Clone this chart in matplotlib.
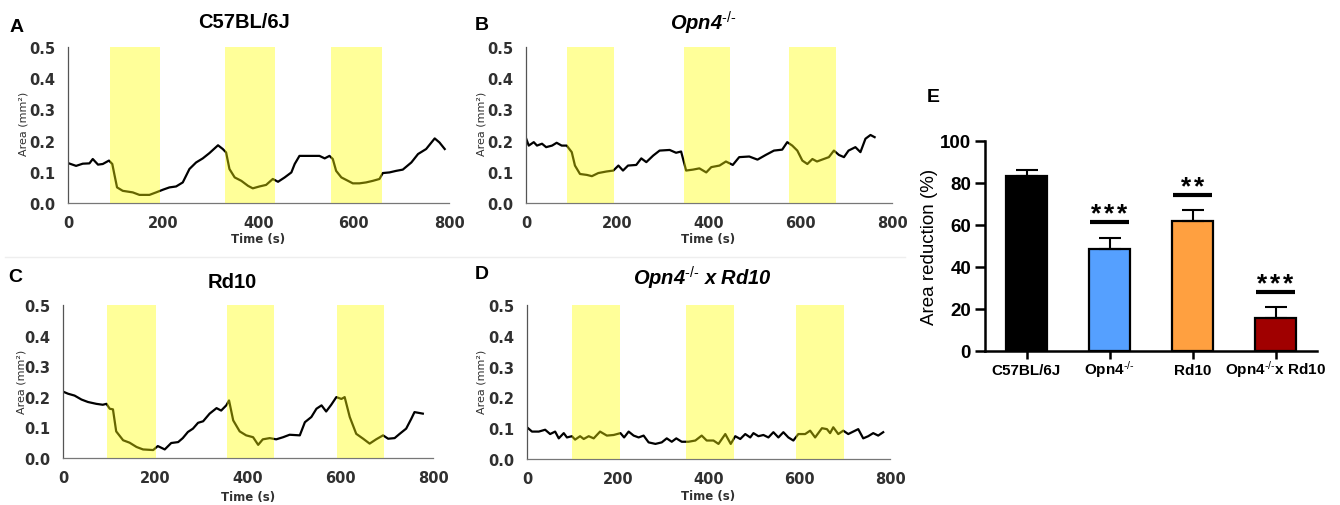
import matplotlib.pyplot as plt
from matplotlib.lines import Line2D
import matplotlib.transforms as mtransforms

plt.rcParams['mathtext.fontset'] = 'custom'
plt.rcParams['mathtext.it'] = 'Liberation Sans:italic:bold'
plt.rcParams['mathtext.bf'] = 'Liberation Sans:bold'
plt.rcParams['mathtext.rm'] = 'Liberation Sans'

# ---- data ----
# A: C57BL/6J
t_a = [0, 17, 31, 45, 52, 63, 73, 86, 93, 98, 103, 115, 136, 150, 171, 185, 200, 213, 227,
       241, 255, 269, 283, 297, 315, 325, 332, 339, 350, 364, 378, 388, 402, 416, 430, 441,
       455, 469, 476, 486, 507, 528, 539, 549, 556, 563, 574, 588, 598, 612, 626, 640, 654,
       661, 675, 689, 703, 721, 735, 752, 770, 780, 791]
y_a = [0.128, 0.119, 0.126, 0.127, 0.141, 0.123, 0.125, 0.136, 0.125, 0.087, 0.050, 0.039,
       0.034, 0.026, 0.026, 0.034, 0.043, 0.050, 0.053, 0.066, 0.109, 0.130, 0.143, 0.160,
       0.185, 0.173, 0.162, 0.109, 0.082, 0.071, 0.055, 0.047, 0.053, 0.058, 0.077, 0.068,
       0.082, 0.098, 0.125, 0.151, 0.151, 0.151, 0.143, 0.151, 0.141, 0.103, 0.082, 0.071,
       0.063, 0.063, 0.066, 0.071, 0.077, 0.096, 0.098, 0.103, 0.107, 0.130, 0.157, 0.173,
       0.207, 0.194, 0.173]
bands_a = [(88, 194), (330, 434), (552, 659)]

# B: Opn4-/-
t_b = [0, 6, 17, 24, 35, 44, 57, 67, 78, 89, 100, 107, 118, 133, 144, 158, 176, 191, 202,
       212, 223, 241, 252, 263, 278, 292, 314, 328, 339, 350, 365, 379, 394, 405, 423, 437,
       452, 466, 488, 506, 524, 542, 560, 571, 582, 593, 604, 615, 626, 636, 647, 662, 673,
       684, 695, 705, 720, 731, 742, 753, 762]
y_b = [0.208, 0.184, 0.195, 0.184, 0.190, 0.179, 0.184, 0.193, 0.184, 0.184, 0.163, 0.120,
       0.093, 0.090, 0.086, 0.096, 0.101, 0.104, 0.120, 0.104, 0.120, 0.122, 0.143, 0.131,
       0.152, 0.168, 0.170, 0.161, 0.165, 0.104, 0.107, 0.111, 0.098, 0.115, 0.120, 0.133,
       0.122, 0.147, 0.149, 0.139, 0.154, 0.168, 0.171, 0.195, 0.184, 0.168, 0.136, 0.125,
       0.141, 0.133, 0.139, 0.147, 0.168, 0.154, 0.147, 0.168, 0.179, 0.163, 0.206, 0.218,
       0.211]
bands_b = [(90, 193), (345, 446), (574, 677)]

# C: Rd10
t_c = [0, 11, 25, 40, 54, 72, 86, 94, 101, 108, 115, 130, 144, 159, 173, 195, 205, 220, 234,
       249, 259, 270, 281, 292, 303, 317, 332, 342, 353, 359, 368, 382, 396, 411, 422, 432,
       447, 461, 476, 490, 512, 523, 537, 548, 559, 569, 580, 591, 602, 609, 620, 634, 649,
       663, 677, 692, 703, 717, 728, 742, 753, 760, 778]
y_c = [0.217, 0.210, 0.204, 0.191, 0.183, 0.177, 0.174, 0.177, 0.161, 0.159, 0.087, 0.058,
       0.050, 0.036, 0.028, 0.026, 0.039, 0.028, 0.049, 0.052, 0.065, 0.085, 0.096, 0.115,
       0.120, 0.145, 0.163, 0.155, 0.172, 0.188, 0.123, 0.087, 0.074, 0.068, 0.043, 0.061,
       0.065, 0.061, 0.068, 0.076, 0.074, 0.117, 0.134, 0.161, 0.172, 0.152, 0.174, 0.199,
       0.193, 0.199, 0.134, 0.079, 0.063, 0.047, 0.061, 0.074, 0.063, 0.065, 0.079, 0.096,
       0.128, 0.150, 0.145]
bands_c = [(95, 200), (355, 456), (593, 695)]

# D: Opn4-/- x Rd10
t_d = [0, 11, 26, 40, 51, 62, 70, 81, 88, 99, 106, 117, 125, 136, 147, 161, 176, 191, 206,
       214, 224, 235, 246, 257, 268, 283, 297, 308, 319, 329, 341, 356, 371, 385, 396, 411,
       422, 437, 449, 459, 470, 481, 492, 499, 510, 521, 532, 543, 554, 565, 576, 587, 598,
       613, 624, 635, 650, 661, 668, 675, 686, 697, 708, 719, 730, 741, 752, 763, 774, 785]
y_d = [0.103, 0.089, 0.089, 0.095, 0.081, 0.089, 0.067, 0.084, 0.070, 0.074, 0.063, 0.074,
       0.065, 0.074, 0.067, 0.089, 0.076, 0.078, 0.084, 0.070, 0.089, 0.076, 0.070, 0.076,
       0.054, 0.049, 0.054, 0.067, 0.056, 0.067, 0.056, 0.056, 0.060, 0.076, 0.060, 0.060,
       0.049, 0.081, 0.049, 0.074, 0.065, 0.081, 0.070, 0.084, 0.074, 0.078, 0.070, 0.087,
       0.070, 0.087, 0.070, 0.060, 0.081, 0.081, 0.092, 0.070, 0.100, 0.097, 0.084, 0.103,
       0.081, 0.092, 0.081, 0.089, 0.097, 0.067, 0.074, 0.084, 0.076, 0.087]
bands_d = [(100, 204), (351, 457), (593, 699)]

# E: area reduction
groups = ['C57BL/6J', 'Opn4$^{\u2010/\u2010}$', 'Rd10', 'Opn4$^{\u2010/\u2010}$x Rd10']
reduction = [83.3, 48.6, 61.9, 15.7]
reduction_err = [2.9, 5.2, 5.2, 5.2]
bar_colors = ['#000000', '#55A0FF', '#FFA040', '#A00000']
sig_stars = [0, 3, 2, 3]
sig_line_y = [None, 61.4, 74.3, 28.1]

W, H = 1340, 506
fig = plt.figure(figsize=(W / 100, H / 100), dpi=100)


def px_box(left, right, top, bottom):
    return [left / W, 1 - bottom / H, (right - left) / W, (bottom - top) / H]


def px_text(x, y, s, **kw):
    fig.text(x / W, 1 - y / H, s, ha='center', va='center', **kw)


# faint separator between the two rows of traces
fig.add_artist(Line2D([5 / W, 905 / W], [1 - 258 / H] * 2, color='#eeeeee', lw=1))

sup = '$^{\u2010/\u2010}$'
trace_panels = [
    # times, values, bands, axes box, letter, title, letter/title/xlabel/ylabel positions, italic
    (t_a, y_a, bands_a, (68, 449, 48, 204), 'A', 'C57BL/6J', (17, 28), (244, 23), (258, 240), (23, 124), False),
    (t_b, y_b, bands_b, (526, 892, 48, 204), 'B', 'Opn4' + sup, (482, 26), (703, 23), (708, 240), (482, 124), True),
    (t_c, y_c, bands_c, (63, 433, 306, 459), 'C', 'Rd10', (15, 278), (232, 282), (248, 498), (22, 382), False),
    (t_d, y_d, bands_d, (527, 890, 306, 460), 'D', 'Opn4' + sup + ' x Rd10', (482, 275), (702, 278), (708, 497), (482, 382), True),
]

for t, y, bands, bx, letter, title, lpos, tpos, xlpos, ylpos, ital in trace_panels:
    ax = fig.add_axes(px_box(*bx))
    ax.plot(t, y, color='black', lw=1.6, zorder=2)
    for s, e in bands:
        ax.axvspan(s, e, color='#FFFF00', alpha=0.4, lw=0, zorder=3)
    ax.set_xlim(0, 800)
    ax.set_ylim(0, 0.5)
    ax.set_xticks([0, 200, 400, 600, 800])
    ax.set_yticks([0, 0.1, 0.2, 0.3, 0.4, 0.5])
    ax.set_yticklabels(['0.0', '0.1', '0.2', '0.3', '0.4', '0.5'])
    ax.tick_params(length=0, labelsize=10.5, colors='#303030', pad=9)
    for lbl in ax.get_xticklabels() + ax.get_yticklabels():
        lbl.set_fontweight('bold')
    for side in ['top', 'right']:
        ax.spines[side].set_visible(False)
    ax.spines['left'].set_color('#555555')
    ax.spines['bottom'].set_color('#777777')
    ax.spines['left'].set_linewidth(0.9)
    ax.spines['bottom'].set_linewidth(0.9)

    px_text(*lpos, letter, family='Liberation Sans', fontsize=14, fontweight='bold')
    px_text(*tpos, title, family='Liberation Sans', fontsize=14.5, fontweight='bold',
            fontstyle='italic' if ital else 'normal')
    px_text(*xlpos, 'Time (s)', fontsize=8.5, fontweight='bold', color='#303030')
    px_text(*ylpos, 'Area (mm²)', fontsize=8, rotation=90, color='#303030')

# ---- panel E ----
axe = fig.add_axes(px_box(985, 1317, 142, 352))
x = list(range(len(groups)))
axe.bar(x, reduction, width=0.5, color=bar_colors, edgecolor='black', linewidth=1.6, zorder=2)
axe.errorbar(x, reduction, yerr=[[0] * len(x), reduction_err], fmt='none', ecolor='black',
             elinewidth=1.5, capsize=8, capthick=1.5, zorder=3)
for xi, n, ly in zip(x, sig_stars, sig_line_y):
    if ly is None:
        continue
    axe.hlines(ly, xi - 0.24, xi + 0.24, color='black', lw=3)
    for k in range(n):
        axe.text(xi + (k - (n - 1) / 2) * 0.157, ly + 0.6, '*', ha='center', va='baseline',
                 family='Liberation Sans', fontsize=19, fontweight='bold')
axe.set_xlim(-0.5, 3.5)
axe.set_ylim(0, 100)
axe.set_yticks([0, 20, 40, 60, 80, 100])
axe.set_xticks(x)
axe.set_xticklabels([''] * len(x))
lab_tr = mtransforms.blended_transform_factory(axe.transData, axe.transAxes)
for xi, g in zip(x, groups):
    axe.text(xi, -23 / 210, g, transform=lab_tr, ha='center', va='baseline',
             family='Liberation Sans', fontsize=11, fontweight='bold')
for lbl in axe.get_yticklabels():
    lbl.set_family('Liberation Sans')
    lbl.set_fontsize(13.5)
    lbl.set_fontweight('bold')
axe.tick_params(axis='y', length=7, width=1.8, pad=3)
axe.tick_params(axis='x', length=6, width=1.8, pad=5)
for side in ['top', 'right']:
    axe.spines[side].set_visible(False)
for side in ['left', 'bottom']:
    axe.spines[side].set_linewidth(1.8)
px_text(930, 247, 'Area reduction (%)', family='Liberation Sans', fontsize=13.5, rotation=90)
px_text(933, 97, 'E', family='Liberation Sans', fontsize=14, fontweight='bold')

fig.savefig('out.png', dpi=100)
